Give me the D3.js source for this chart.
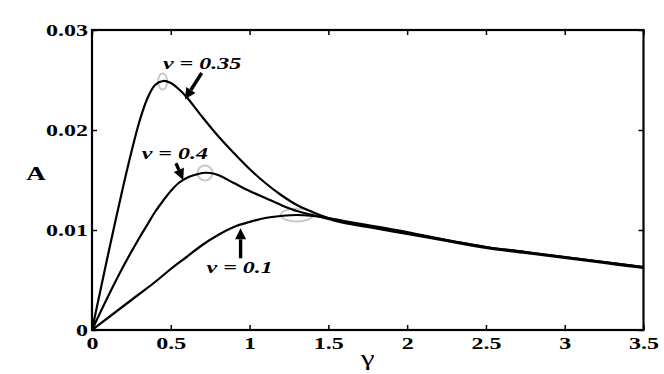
<!DOCTYPE html>
<html>
<head>
<meta charset="utf-8">
<script src="https://cdn.jsdelivr.net/npm/d3@7"></script>
<style>
  html, body { margin: 0; padding: 0; background: #fff; }
  svg { display: block; }
  text { font-family: "Liberation Serif", "Times New Roman", Times, "Nimbus Roman", serif; }
</style>
</head>
<body>
<svg id="chart" width="664" height="374"></svg>
<script>
// ---- data ----
const xTicks = [0, 0.5, 1, 1.5, 2, 2.5, 3, 3.5];
const xTickLabels = ["0", "0.5", "1", "1.5", "2", "2.5", "3", "3.5"];
const yTicks = [0, 0.01, 0.02, 0.03];
const yTickLabels = ["0", "0.01", "0.02", "0.03"];

const gamma035 = [0, 0.05, 0.1, 0.15, 0.2, 0.25, 0.3, 0.35, 0.4, 0.45, 0.5, 0.55, 0.6, 0.7, 0.8, 0.9, 1.0, 1.1, 1.2, 1.3, 1.4, 1.5, 1.6, 1.75, 2.0, 2.25, 2.5, 2.75, 3.0, 3.25, 3.5];
const A035     = [0, 0.0037, 0.0074, 0.0110, 0.0145, 0.0178, 0.0208, 0.0231, 0.0245, 0.0249, 0.0247, 0.0241, 0.0233, 0.0213, 0.0194, 0.0177, 0.0161, 0.0147, 0.0135, 0.0125, 0.0118, 0.0112, 0.0108, 0.0104, 0.0097, 0.0090, 0.0083, 0.0078, 0.0073, 0.0068, 0.0063];

const gamma04 = [0, 0.1, 0.2, 0.3, 0.35, 0.4, 0.45, 0.5, 0.55, 0.6, 0.65, 0.7, 0.75, 0.8, 0.9, 1.0, 1.1, 1.2, 1.3, 1.4, 1.5, 1.6, 1.75, 2.0, 2.25, 2.5, 2.75, 3.0, 3.25, 3.5];
const A04     = [0, 0.0033, 0.0064, 0.0092, 0.0105, 0.0118, 0.0129, 0.0139, 0.0147, 0.0152, 0.0155, 0.0157, 0.0157, 0.0155, 0.0147, 0.0139, 0.0132, 0.0125, 0.0119, 0.0115, 0.0111, 0.0107, 0.0103, 0.0096, 0.0089, 0.0082, 0.0077, 0.0072, 0.0067, 0.0062];

const gamma01 = [0, 0.1, 0.2, 0.3, 0.4, 0.5, 0.6, 0.7, 0.8, 0.9, 1.0, 1.1, 1.2, 1.3, 1.4, 1.5, 1.6, 1.75, 2.0, 2.25, 2.5, 2.75, 3.0, 3.25, 3.5];
const A01     = [0, 0.0012, 0.0024, 0.0036, 0.0048, 0.0061, 0.0073, 0.0085, 0.0095, 0.0103, 0.0108, 0.0112, 0.0114, 0.0115, 0.0114, 0.0112, 0.0109, 0.0105, 0.0098, 0.0090, 0.0083, 0.0078, 0.0073, 0.0068, 0.0063];

const seriesNames = ["v = 0.35", "v = 0.4", "v = 0.1"];
// annotation anchors in data units
const labelGamma = [0.450, 0.315, 0.727];
const labelA     = [0.0261, 0.0171, 0.0057];
const arrowFromGamma = [0.696, 0.533, 0.943];
const arrowFromA     = [0.0257, 0.01667, 0.00717];
const arrowToGamma   = [0.590, 0.579, 0.943];
const arrowToA       = [0.02307, 0.0150, 0.01017];
const peakGamma = [0.448, 0.717, 1.30];
const peakA     = [0.02485, 0.0157, 0.0115];

// ---- layout ----
const W = 664, H = 374;
const m = { left: 92, right: 20.5, top: 30, bottom: 44 };
const SX = 1.5; // horizontal stretch of the glyphs in the reference
const FONT = '"Liberation Serif", "Times New Roman", Times, "Nimbus Roman", serif';
const svg = d3.select("#chart");
const x = d3.scaleLinear().domain([0, 3.5]).range([m.left, W - m.right]);
const y = d3.scaleLinear().domain([0, 0.03]).range([H - m.bottom, m.top]);

const fontTick = 16;

function stretchText(sel) {
  sel.each(function () {
    const t = d3.select(this);
    const tx = +t.attr("x") || 0, ty = +t.attr("y") || 0;
    t.attr("x", 0).attr("y", 0).attr("transform", `translate(${tx},${ty}) scale(${SX},1)`);
  });
}
function styleTicks(g) {
  g.attr("font-family", null);
  g.select(".domain").remove();
  g.selectAll("line").attr("stroke", "#000").attr("stroke-width", 1.5);
  g.selectAll("text").attr("font-size", fontTick).attr("font-weight", "bold")
    .attr("fill", "#000").style("font-family", FONT);
}

// x axis bottom
svg.append("g")
  .attr("transform", `translate(0,${y(0)})`)
  .call(d3.axisBottom(x).tickValues(xTicks).tickFormat((d, i) => xTickLabels[i]).tickSize(-5).tickSizeOuter(0).tickPadding(8))
  .call(styleTicks)
  .call(g => stretchText(g.selectAll("text")));
// x axis top (ticks only)
svg.append("g")
  .attr("transform", `translate(0,${y(0.03)})`)
  .call(d3.axisTop(x).tickValues(xTicks).tickFormat("").tickSize(-5).tickSizeOuter(0))
  .call(styleTicks);
// y axis left
svg.append("g")
  .attr("transform", `translate(${x(0)},0)`)
  .call(d3.axisLeft(y).tickValues(yTicks).tickFormat((d, i) => yTickLabels[i]).tickSize(-5).tickSizeOuter(0).tickPadding(4))
  .call(styleTicks)
  .call(g => stretchText(g.selectAll("text")));
// y axis right (ticks only)
svg.append("g")
  .attr("transform", `translate(${x(3.5)},0)`)
  .call(d3.axisRight(y).tickValues(yTicks).tickFormat("").tickSize(-5).tickSizeOuter(0))
  .call(styleTicks);

// peak ellipses (grey)
const ellR = [[4.5, 8], [7.5, 7.5], [16, 6.5]];
peakGamma.forEach((g, i) => {
  svg.append("ellipse")
    .attr("cx", x(g)).attr("cy", y(peakA[i]))
    .attr("rx", ellR[i][0]).attr("ry", ellR[i][1])
    .attr("fill", "none").attr("stroke", "#c8c8c8").attr("stroke-width", 2);
});

// curves
const line = d3.line().x(d => x(d[0])).y(d => y(d[1])).curve(d3.curveCatmullRom.alpha(0.5));
const series = [
  d3.zip(gamma035, A035),
  d3.zip(gamma04, A04),
  d3.zip(gamma01, A01)
];
series.forEach(s => {
  svg.append("path").attr("d", line(s))
    .attr("fill", "none").attr("stroke", "#000").attr("stroke-width", 2.2)
    .attr("stroke-linejoin", "round");
});

// box
svg.append("rect")
  .attr("x", x(0)).attr("y", y(0.03))
  .attr("width", x(3.5) - x(0)).attr("height", y(0) - y(0.03))
  .attr("fill", "none").attr("stroke", "#000").attr("stroke-width", 2.2);

// annotations
seriesNames.forEach((name, i) => {
  svg.append("text")
    .attr("transform", `translate(${x(labelGamma[i])},${y(labelA[i])}) scale(${SX},1)`)
    .attr("font-size", 16).attr("font-weight", "bold").attr("font-style", "italic")
    .style("font-family", FONT)
    .attr("fill", "#000").text(name);

  const x0 = x(arrowFromGamma[i]), y0 = y(arrowFromA[i]);
  const x1 = x(arrowToGamma[i]), y1 = y(arrowToA[i]);
  const dx = x1 - x0, dy = y1 - y0, L = Math.hypot(dx, dy);
  const ux = dx / L, uy = dy / L;
  const headL = 11, headW = 5.5;
  const bx = x1 - ux * headL, by = y1 - uy * headL;
  svg.append("line")
    .attr("x1", x0).attr("y1", y0).attr("x2", bx).attr("y2", by)
    .attr("stroke", "#000").attr("stroke-width", 3.4);
  svg.append("path")
    .attr("d", `M${x1},${y1}L${bx - uy * headW},${by + ux * headW}L${bx + uy * headW},${by - ux * headW}Z`)
    .attr("fill", "#000");
});

// axis labels
svg.append("text")
  .attr("transform", `translate(36,180) scale(${SX},1)`)
  .attr("text-anchor", "middle").attr("font-size", 18).attr("font-weight", "bold")
  .style("font-family", FONT)
  .attr("fill", "#000").text("A");
svg.append("text")
  .attr("transform", `translate(${(x(0) + x(3.5)) / 2},365) scale(${SX},1)`)
  .attr("text-anchor", "middle").attr("font-size", 21)
  .style("font-family", FONT)
  .attr("fill", "#000").text("γ");
</script>
</body>
</html>
